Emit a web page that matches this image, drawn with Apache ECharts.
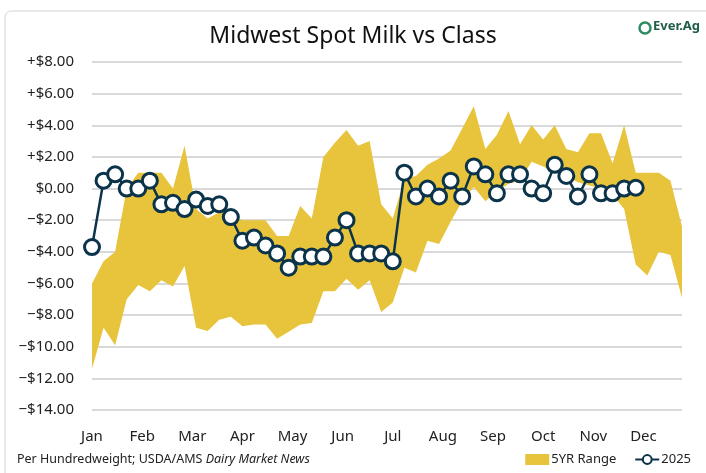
<!DOCTYPE html>
<html>
<head>
<meta charset="utf-8">
<script src="https://cdn.jsdelivr.net/npm/echarts@6/dist/echarts.min.js"></script>
<style>
  html, body { margin: 0; padding: 0; background: #fff; }
  #chart { width: 706px; height: 473px; }
</style>
</head>
<body>
<div id="chart"></div>
<script>
// weekly values, week 0 = first week of Jan
const months = ['Jan', 'Feb', 'Mar', 'Apr', 'May', 'Jun', 'Jul', 'Aug', 'Sep', 'Oct', 'Nov', 'Dec'];

const rangeLow = [
  -11.4, -8.8, -9.9, -7.0, -6.1, -6.5, -5.8, -6.2, -4.9, -8.8, -9.0, -8.3, -8.1,
  -8.7, -8.6, -8.6, -9.5, -9.05, -8.6, -8.5, -6.5, -6.5, -5.7, -6.4, -5.8, -7.8,
  -7.2, -5.0, -5.3, -3.3, -3.5, -2.1, -0.8, 0.1, -0.8, -0.2, 0.3, 0.5, 1.7,
  1.4, 1.0, 0.8, 0.4, 0.2, 0.0, -0.4, -1.3, -4.8, -5.5, -4.0, -4.2, -6.9
];
const rangeHigh = [
  -6.0, -4.6, -4.0, 0.0, 1.0, 1.0, 1.0, 0.0, 2.7, -1.3, -1.9, -1.5, -1.6,
  -2.0, -2.0, -2.0, -3.0, -3.0, -1.1, -1.9, 2.0, 2.9, 3.7, 2.7, 3.0, -1.0,
  -1.9, 0.6, 0.8, 1.5, 1.9, 2.4, 3.8, 5.2, 2.5, 3.4, 4.9, 2.8, 4.0,
  3.1, 4.0, 2.5, 2.3, 3.5, 3.5, 1.6, 4.0, 1.0, 1.0, 1.0, 0.5, -2.4
];
const spot2025 = [
  -3.7, 0.5, 0.9, 0.0, 0.0, 0.5, -1.0, -0.9, -1.3, -0.7, -1.1, -1.0, -1.8,
  -3.3, -3.1, -3.6, -4.1, -5.0, -4.3, -4.3, -4.3, -3.1, -2.0, -4.1, -4.1, -4.1,
  -4.6, 1.0, -0.5, 0.0, -0.5, 0.5, -0.5, 1.4, 0.9, -0.3, 0.9, 0.9, 0.0,
  -0.3, 1.5, 0.8, -0.5, 0.9, -0.3, -0.3, 0.0, 0.05
];

const weeksPerMonth = 52 / 12;
const font = 'Noto Sans';
const bandColor = '#E8C33C';

const chart = echarts.init(document.getElementById('chart'));

const fmtY = v => {
  if (v === 0) return '$0.00';
  return (v > 0 ? '+$' : '\u2212$') + Math.abs(v).toFixed(2);
};
const fmtX = v => {
  const i = Math.round(v / weeksPerMonth);
  if (Math.abs(v - i * weeksPerMonth) < 0.01 && months[i]) return months[i];
  return '';
};

// the whole band is one polygon: high edge left->right, low edge back
const renderBand = (params, api) => {
  if (params.dataIndex !== 0) return;
  const pts = [];
  for (let i = 0; i < rangeHigh.length; i++) pts.push(api.coord([i, rangeHigh[i]]));
  for (let i = rangeLow.length - 1; i >= 0; i--) pts.push(api.coord([i, rangeLow[i]]));
  return {
    type: 'polygon',
    shape: { points: pts },
    style: { fill: bandColor }
  };
};

chart.setOption({
  animation: false,
  textStyle: { fontFamily: font },
  title: [{
    text: 'Midwest Spot Milk vs Class',
    left: 'center',
    top: 20,
    textStyle: { fontSize: 23, fontWeight: 'normal', color: '#111', fontFamily: font }
  }, {
    text: '{a|Per Hundredweight; USDA/AMS }{b|Dairy Market News}',
    left: 12,
    bottom: 2,
    textStyle: {
      rich: {
        a: { fontSize: 12.5, color: '#222', fontWeight: 'normal', fontFamily: font },
        b: { fontSize: 12.5, color: '#222', fontWeight: 'normal', fontStyle: 'italic', fontFamily: font }
      }
    }
  }],
  graphic: [{
    type: 'rect',
    shape: { x: 5, y: 11, width: 760, height: 520, r: 6 },
    style: { fill: 'none', stroke: '#d4d4d4', lineWidth: 1 },
    silent: true
  }, {
    type: 'text',
    left: 653,
    top: 20,
    style: { text: 'Ever.Ag', fontSize: 13, fontWeight: 'bold', fill: '#1f5c4a', fontFamily: font }
  }, {
    type: 'circle',
    shape: { cx: 645, cy: 28, r: 5.5 },
    style: { fill: 'none', stroke: '#2e8b62', lineWidth: 2.5 }
  }],
  legend: {
    right: 10,
    bottom: 2,
    itemGap: 18,
    itemWidth: 24,
    itemHeight: 11,
    textStyle: { fontSize: 13, color: '#222', fontFamily: font, padding: [0, 0, 0, -3] },
    data: [
      { name: '5YR Range', icon: 'rect', itemStyle: { color: bandColor } },
      { name: '2025' }
    ]
  },
  grid: { left: 92, right: 24, top: 62, bottom: 63 },
  xAxis: {
    type: 'value',
    min: 0,
    max: 51,
    interval: weeksPerMonth,
    axisLine: { show: false },
    axisTick: { show: false },
    splitLine: { show: false },
    axisLabel: {
      margin: 19,
      fontSize: 15,
      color: '#222',
      showMaxLabel: false,
      formatter: fmtX
    }
  },
  yAxis: {
    type: 'value',
    min: -14,
    max: 8,
    interval: 2,
    axisLine: { show: false },
    axisTick: { show: false },
    splitLine: { lineStyle: { color: '#cccccc', width: 1.5 } },
    axisLabel: { margin: 18, fontSize: 15, color: '#222', formatter: fmtY }
  },
  series: [{
    name: '5YR Range',
    type: 'custom',
    renderItem: renderBand,
    data: rangeHigh.map((v, i) => [i, rangeLow[i], v]),
    encode: { x: 0, y: [1, 2] },
    itemStyle: { color: bandColor },
    silent: true,
    z: 2
  }, {
    name: '2025',
    type: 'line',
    data: spot2025.map((v, i) => [i, v]),
    symbol: 'circle',
    symbolSize: 15,
    lineStyle: { color: '#0b3349', width: 2.5 },
    itemStyle: { color: '#ffffff', borderColor: '#0b3349', borderWidth: 3 },
    z: 5
  }]
});
</script>
</body>
</html>
